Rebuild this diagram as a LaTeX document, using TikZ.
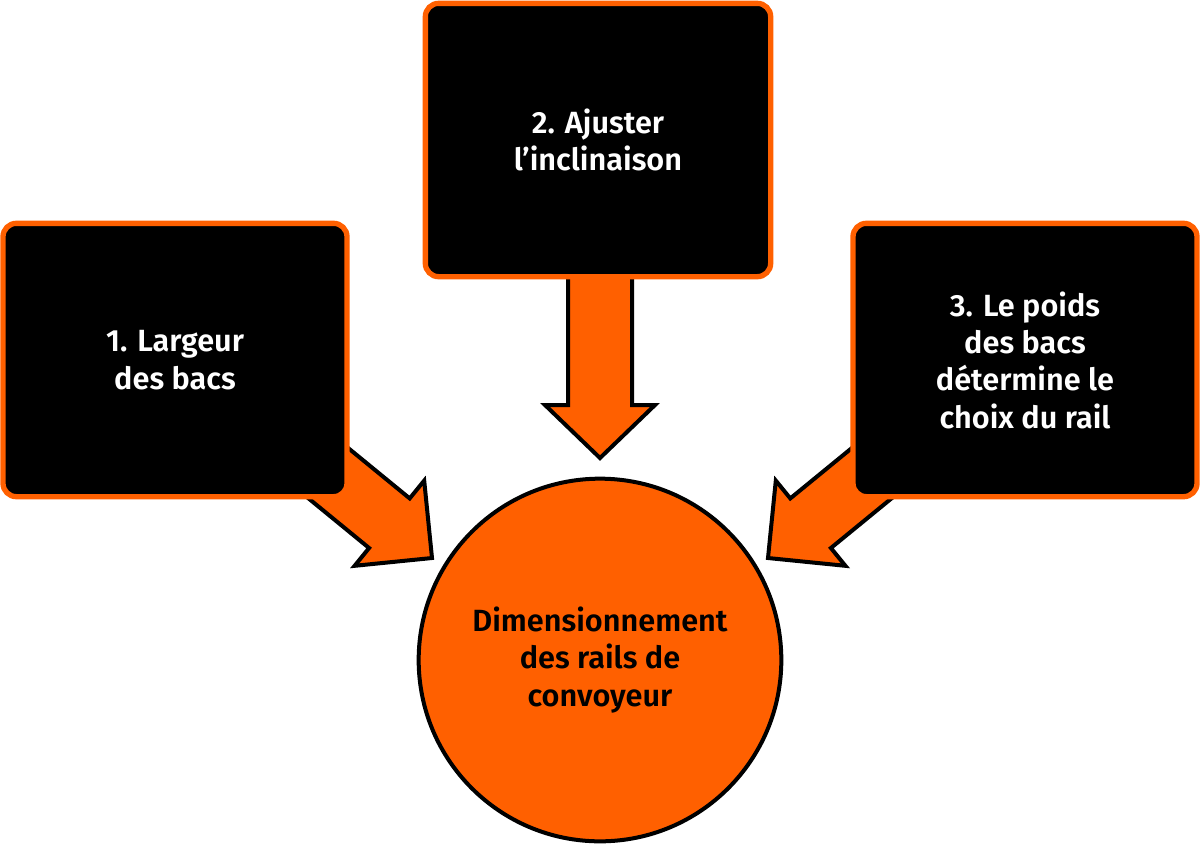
\documentclass[tikz,border=0pt]{standalone}
\usepackage{fontspec}
\setmainfont{Fira Sans}[BoldFont={Fira Sans SemiBold}]
\definecolor{org}{HTML}{FF6000}
\begin{document}
\begin{tikzpicture}[x=0.75pt,y=-0.75pt,
  box/.style={draw=org,line width=4pt,fill=black,rounded corners=10pt,text=white,font=\bfseries\fontsize{23}{28}\selectfont,align=center},
  arr/.style={draw=black,line width=3pt,fill=org,line join=miter}]
\useasboundingbox (0,0) rectangle (1200,844);
\draw[arr] (279.7,474.8)--(369.1,548)--(354.6,565.8)--(432,558)--(424.2,480.6)--(409.7,498.4)--(320.3,425.2)--cycle;
\draw[arr] (920.3,474.8)--(830.9,548)--(845.4,565.8)--(768,558)--(775.8,480.6)--(790.3,498.4)--(879.7,425.2)--cycle;
\draw[arr] (568,260)--(568,405)--(545,405)--(600,458)--(655,405)--(632,405)--(632,260)--cycle;
\node[box,minimum width=258pt,minimum height=205pt] (l) at (175,360) {1. Largeur\\des bacs};
\node[box,minimum width=259pt,minimum height=205pt] (t) at (598,140) {2. Ajuster\\l’inclinaison};
\node[box,minimum width=258pt,minimum height=205pt] (r) at (1025,360) {3. Le poids\\des bacs\\détermine le\\choix du rail};
\node[circle,draw=black,line width=3pt,fill=org,minimum size=272pt,align=center,font=\bfseries\fontsize{23}{28}\selectfont] (c) at (600,660) {Dimensionnement\\des rails de\\convoyeur};
\end{tikzpicture}
\end{document}
